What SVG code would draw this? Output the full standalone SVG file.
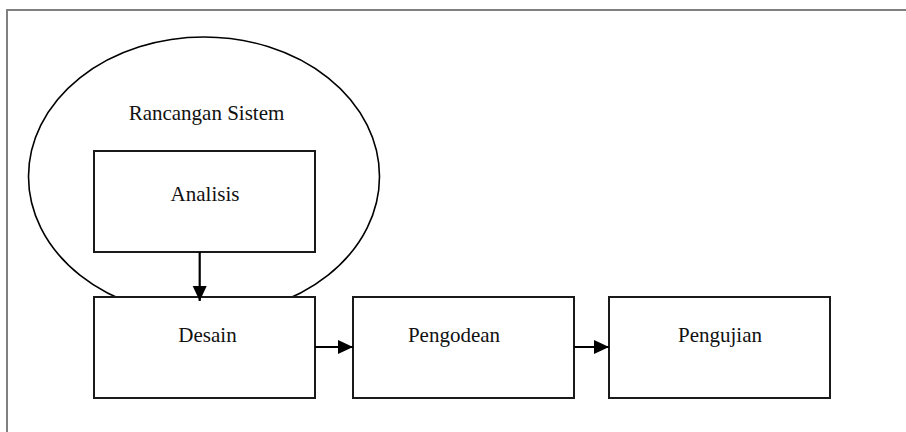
<svg xmlns="http://www.w3.org/2000/svg" width="906" height="432" viewBox="0 0 906 432">
<style>
.box{fill:#fff;stroke:#1a1a1a;stroke-width:2}
.lbl{font-family:"Liberation Serif","Times New Roman",serif;font-size:21px;fill:#111}
.conn{stroke:#000;stroke-width:2.2;fill:none}
</style>
<defs>
<marker id="ah" markerUnits="userSpaceOnUse" markerWidth="16" markerHeight="16" refX="15" refY="7" orient="auto">
<path d="M0,0 L15,7 L0,14 Z" fill="#000"/>
</marker>
</defs>
<rect x="0" y="0" width="906" height="432" fill="#fff"/>
<path d="M7,432 V10 H906" fill="none" stroke="#808080" stroke-width="2"/>
<g id="rancangan-sistem">
<ellipse cx="204" cy="176.5" rx="175.5" ry="139.5" fill="none" stroke="#000" stroke-width="1.6"/>
<text class="lbl" x="206.5" y="120" text-anchor="middle">Rancangan Sistem</text>
</g>
<g id="analisis">
<rect class="box" x="94" y="151" width="221" height="101"/>
<text class="lbl" x="205" y="201" text-anchor="middle">Analisis</text>
</g>
<g id="desain">
<rect class="box" x="94" y="297" width="221" height="101"/>
<text class="lbl" x="207.5" y="342" text-anchor="middle">Desain</text>
</g>
<g id="pengodean">
<rect class="box" x="353" y="297" width="221" height="101"/>
<text class="lbl" x="454" y="342" text-anchor="middle">Pengodean</text>
</g>
<g id="pengujian">
<rect class="box" x="609" y="297" width="221" height="101"/>
<text class="lbl" x="720" y="342" text-anchor="middle">Pengujian</text>
</g>
<g id="connectors">
<line class="conn" x1="199.7" y1="252" x2="199.7" y2="301" marker-end="url(#ah)"/>
<line class="conn" x1="315" y1="347" x2="353" y2="347" marker-end="url(#ah)"/>
<line class="conn" x1="574" y1="347" x2="609" y2="347" marker-end="url(#ah)"/>
</g>
</svg>
